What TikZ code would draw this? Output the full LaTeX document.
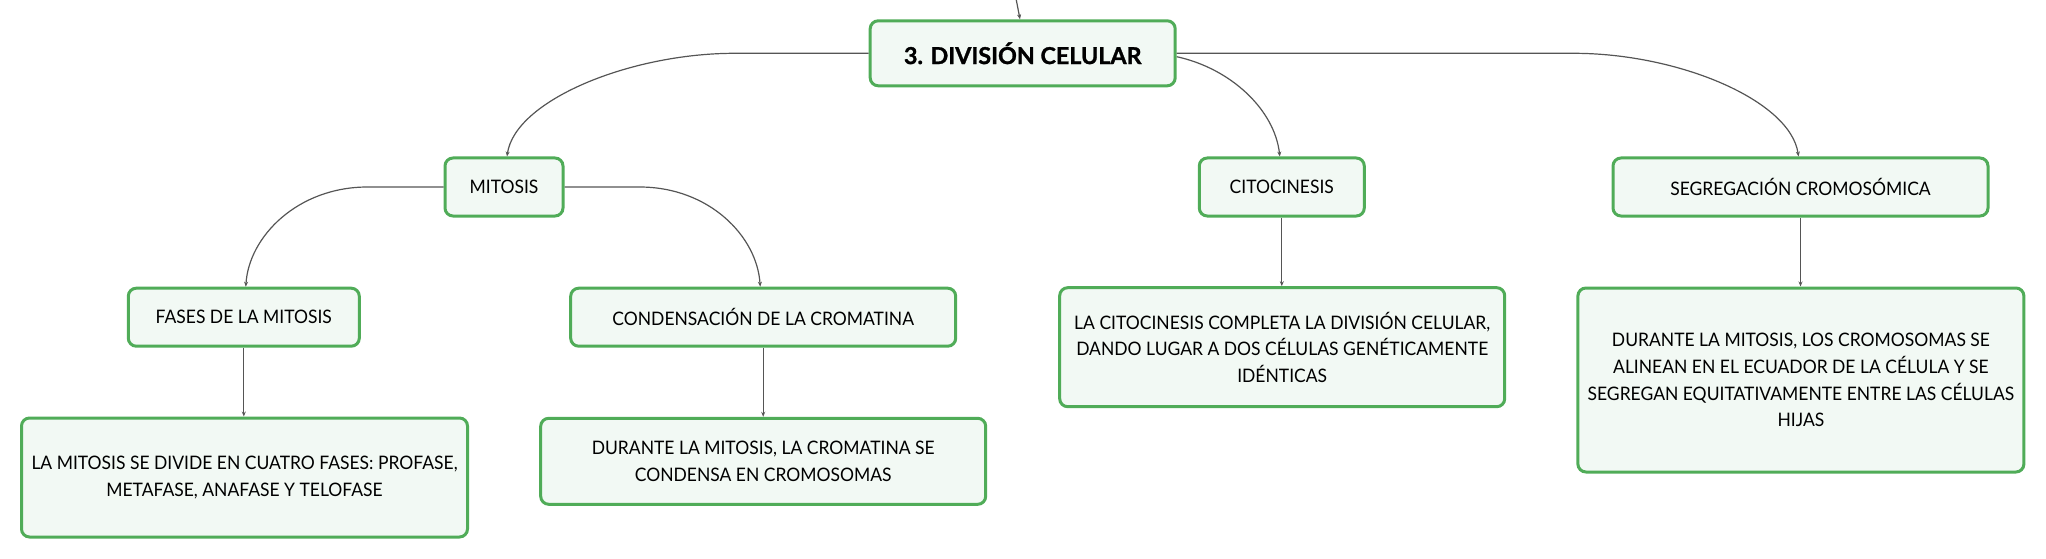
\documentclass[tikz,border=0pt]{standalone}
\usepackage{fontspec}
\setmainfont{Lato}[FakeStretch=0.94]
\newfontfamily\titlefont{Lato}[BoldFeatures={FakeBold=1.2}]
\usetikzlibrary{arrows.meta}
\definecolor{bordergreen}{RGB}{80,172,88}
\definecolor{fillgreen}{RGB}{242,249,244}
\definecolor{linegray}{RGB}{85,85,85}
\begin{document}
\begin{tikzpicture}[x=1pt,y=-1pt,
  box/.style={draw=bordergreen, line width=3pt, fill=fillgreen, rounded corners=8pt,
    inner sep=0pt, align=center, font=\fontsize{18.6}{26.7}\selectfont},
  titlebox/.style={box, font=\titlefont\fontsize{23.3}{28}\selectfont\bfseries},
  conn/.style={draw=linegray, line width=1.2pt, -{Stealth[length=5pt,width=4pt]}}]
\useasboundingbox (0,0) rectangle (2046,559);

\node[titlebox, minimum width=305, minimum height=65] (main) at (1022.7,53.3) {3. DIVISIÓN CELULAR};

\node[box, minimum width=118, minimum height=58] (mitosis) at (504,187) {MITOSIS};
\node[box, minimum width=165, minimum height=58] (cito) at (1281.8,187) {CITOCINESIS};
\node[box, minimum width=375, minimum height=58] (segr) at (1800.5,187) {SEGREGACIÓN CROMOSÓMICA};

\node[box, minimum width=231, minimum height=58] (fases) at (243.8,317.2) {FASES DE LA MITOSIS};
\node[box, minimum width=385, minimum height=58] (cond) at (763.2,317.2) {CONDENSACIÓN DE LA CROMATINA};

\node[box, minimum width=445, minimum height=119] (citotext) at (1282.2,347.2)
  {LA CITOCINESIS COMPLETA LA DIVISIÓN CELULAR,\\DANDO LUGAR A DOS CÉLULAS GENÉTICAMENTE\\IDÉNTICAS};
\node[box, minimum width=446, minimum height=184] (cromotext) at (1800.9,380)
  {DURANTE LA MITOSIS, LOS CROMOSOMAS SE\\ALINEAN EN EL ECUADOR DE LA CÉLULA Y SE\\SEGREGAN EQUITATIVAMENTE ENTRE LAS CÉLULAS\\HIJAS};
\node[box, minimum width=446, minimum height=119] (mitotext) at (244.5,477.5)
  {LA MITOSIS SE DIVIDE EN CUATRO FASES: PROFASE,\\METAFASE, ANAFASE Y TELOFASE};
\node[box, minimum width=445, minimum height=86] (cromatext) at (763.2,461.3)
  {DURANTE LA MITOSIS, LA CROMATINA SE\\CONDENSA EN CROMOSOMAS};

\coordinate (top) at (1016.3,0);
\draw[conn] (top) -- ([xshift=-2.7pt]main.north);

\draw[conn] (main.west) -- ++(-134,0) .. controls +(-105,0) and +(8,-56) .. ([xshift=3pt]mitosis.north);
\draw[conn] ([yshift=-3.4pt]main.east) .. controls +(55,12) and +(-5,-46) .. ([xshift=-2pt]cito.north);
\draw[conn] (main.east) -- ++(397,0) .. controls +(105,0) and +(-8,-56) .. ([xshift=-2pt]segr.north);

\draw[conn] (mitosis.west) -- ++(-76,0) .. controls +(-70,0) and +(3,-50) .. ([xshift=2pt]fases.north);
\draw[conn] (mitosis.east) -- ++(75,0) .. controls +(70,0) and +(-3,-50) .. ([xshift=-3pt]cond.north);

\draw[conn] (fases.south) -- (fases.south |- mitotext.north);
\draw[conn] (cond.south) -- (cond.south |- cromatext.north);
\draw[conn] (cito.south) -- (cito.south |- citotext.north);
\draw[conn] (segr.south) -- (segr.south |- cromotext.north);
\end{tikzpicture}
\end{document}
